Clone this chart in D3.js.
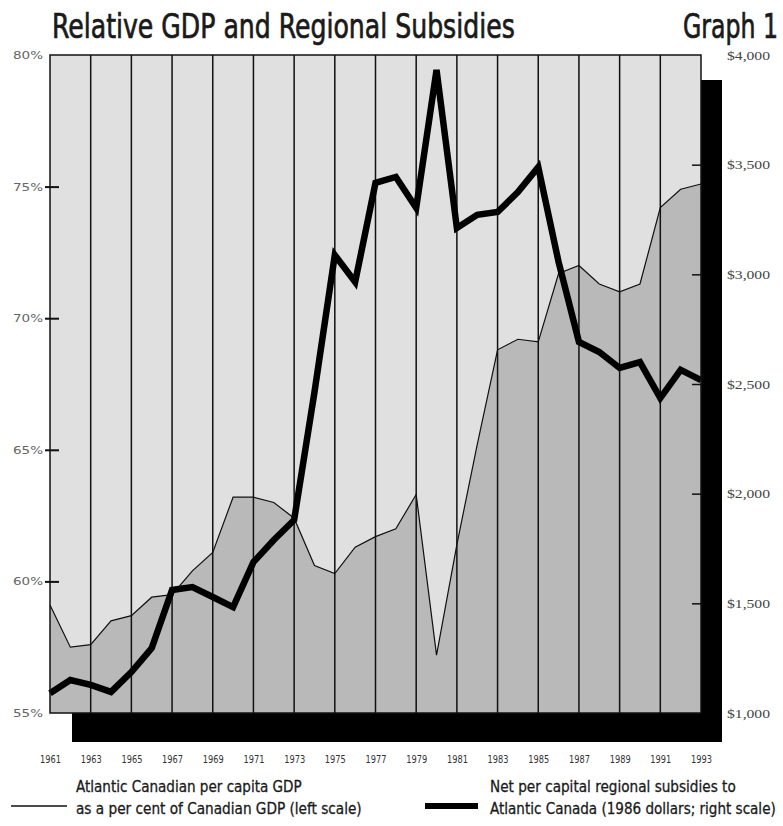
<!DOCTYPE html>
<html>
<head>
<meta charset="utf-8">
<script src="https://cdn.jsdelivr.net/npm/d3@7"></script>
<style>
  html, body { margin: 0; padding: 0; background: #fff; }
  svg { display: block; }
</style>
</head>
<body>
<svg id="chart" width="783" height="826"></svg>
<script>
// ---- data ----
const years = d3.range(1961, 1994);
const gdpPct = [59.1, 57.5, 57.6, 58.5, 58.7, 59.4, 59.5, 60.4, 61.1, 63.2, 63.2, 63.0, 62.4,
                60.6, 60.3, 61.3, 61.7, 62.0, 63.3, 57.2, 61.4, 65.2, 68.8, 69.2, 69.1,
                71.7, 72.0, 71.3, 71.0, 71.3, 74.2, 74.9, 75.1];
const subsidies = [1090, 1150, 1128, 1096, 1187, 1296, 1561, 1574, 1529, 1483, 1688, 1789, 1880,
                   2463, 3088, 2965, 3417, 3444, 3303, 3932, 3211, 3271, 3284, 3375, 3489,
                   3056, 2692, 2646, 2573, 2600, 2436, 2564, 2518];
const yearTicks = [1961, 1963, 1965, 1967, 1969, 1971, 1973, 1975, 1977, 1979, 1981, 1983, 1985, 1987, 1989, 1991, 1993];
const leftTicks = [55, 60, 65, 70, 75, 80];
const rightTicks = [1000, 1500, 2000, 2500, 3000, 3500, 4000];
const titleText = "Relative GDP and Regional Subsidies";
const graphLabel = "Graph 1";
const legendGdp = ["Atlantic Canadian per capita GDP", "as a per cent of Canadian GDP (left scale)"];
const legendSub = ["Net per capital regional subsidies to", "Atlantic Canada (1986 dollars; right scale)"];

// ---- layout ----
const L = 50, R = 701, T = 55, B = 713;
const narrow = '"Liberation Sans Narrow", "DejaVu Sans Condensed", "Roboto Condensed", sans-serif';

const svg = d3.select("#chart");
const x = d3.scaleLinear().domain([1961, 1993]).range([L, R]);
const yL = d3.scaleLinear().domain([55, 80]).range([B, T]);
const yR = d3.scaleLinear().domain([1000, 4000]).range([B, T]);

// place a text at (px, py) and squeeze it horizontally to width w
function fitText(parent, str, px, py, w, attrs) {
  const t = parent.append("text").attr("x", 0).attr("y", 0).text(str);
  Object.entries(attrs).forEach(([k, v]) => t.attr(k, v));
  const n = t.node().getComputedTextLength() || w;
  t.attr("transform", `translate(${px},${py}) scale(${w / n},1)`);
  return t;
}

// title
const titleAttrs = { "font-family": narrow, "font-size": 34, "fill": "#1a1a1a", "stroke": "#1a1a1a", "stroke-width": 0.7 };
fitText(svg, titleText, 52, 38, 463, titleAttrs);
fitText(svg, graphLabel, 683, 38, 95, titleAttrs);

// shadow
svg.append("rect").attr("x", 72).attr("y", 80)
  .attr("width", 650).attr("height", 662)
  .attr("fill", "#000");

// background
svg.append("rect").attr("x", L).attr("y", T).attr("width", R - L).attr("height", B - T)
  .attr("fill", "#e0e0e0");

// GDP area
const area = d3.area().x((d, i) => x(years[i])).y0(B).y1(d => yL(d));
svg.append("path").datum(gdpPct).attr("d", area).attr("fill", "#b9b9b9");

// vertical grid lines
svg.append("g").selectAll("line").data(yearTicks.slice(1, -1)).join("line")
  .attr("x1", d => x(d)).attr("x2", d => x(d)).attr("y1", T).attr("y2", B)
  .attr("stroke", "#111").attr("stroke-width", 1.5);

// GDP thin line
const lineL = d3.line().x((d, i) => x(years[i])).y(d => yL(d));
svg.append("path").datum(gdpPct).attr("d", lineL)
  .attr("fill", "none").attr("stroke", "#111").attr("stroke-width", 1.2);

// subsidies thick line
const lineR = d3.line().x((d, i) => x(years[i])).y(d => yR(d));
svg.append("path").datum(subsidies).attr("d", lineR)
  .attr("fill", "none").attr("stroke", "#000").attr("stroke-width", 6.5)
  .attr("stroke-linejoin", "miter").attr("stroke-miterlimit", 3);

// frame
svg.append("rect").attr("x", L).attr("y", T).attr("width", R - L).attr("height", B - T)
  .attr("fill", "none").attr("stroke", "#111").attr("stroke-width", 1.5);

// left axis
const gl = svg.append("g").attr("transform", `translate(${L + 9},0)`)
  .call(d3.axisLeft(yL).tickValues(leftTicks).tickSize(14).tickPadding(2).tickFormat(d => d + "%"));
gl.select(".domain").remove();
gl.selectAll(".tick line").attr("stroke", "#111").attr("stroke-width", 2)
  .attr("display", d => (d === 55 || d === 80) ? "none" : null);
gl.selectAll(".tick text").attr("font-family", '"DejaVu Sans Condensed", "DejaVu Sans", sans-serif')
  .attr("font-size", 11).attr("fill", "#666")
  .attr("textLength", 30).attr("lengthAdjust", "spacingAndGlyphs");

// right axis
const gr = svg.append("g").attr("transform", `translate(${R - 9},0)`)
  .call(d3.axisRight(yR).tickValues(rightTicks).tickSize(9).tickPadding(26).tickFormat(d3.format("$,")));
gr.select(".domain").remove();
gr.selectAll(".tick line").attr("stroke", "#111").attr("stroke-width", 1.5)
  .attr("display", d => (d === 1000 || d === 4000) ? "none" : null);
gr.selectAll(".tick text").attr("font-family", '"Liberation Serif", "DejaVu Serif", serif')
  .attr("font-size", 13).attr("fill", "#444")
  .attr("textLength", 43).attr("lengthAdjust", "spacingAndGlyphs");

// bottom axis
const gb = svg.append("g").attr("transform", `translate(0,${B})`)
  .call(d3.axisBottom(x).tickValues(yearTicks).tickSize(0).tickPadding(43).tickFormat(d3.format("d")));
gb.select(".domain").remove();
gb.selectAll(".tick text").attr("font-family", narrow).attr("font-size", 10).attr("fill", "#333")
  .attr("textLength", 21).attr("lengthAdjust", "spacingAndGlyphs");

// legend
const lg = svg.append("g");
const legAttrs = { "font-family": narrow, "font-size": 16, "fill": "#1a1a1a", "stroke": "#1a1a1a", "stroke-width": 0.3 };
lg.append("line").attr("x1", 11).attr("x2", 67).attr("y1", 806).attr("y2", 806)
  .attr("stroke", "#111").attr("stroke-width", 1.5);
fitText(lg, legendGdp[0], 76, 792, 226, legAttrs);
fitText(lg, legendGdp[1], 76, 814, 286, legAttrs);
lg.append("line").attr("x1", 425).attr("x2", 478).attr("y1", 806).attr("y2", 806)
  .attr("stroke", "#000").attr("stroke-width", 6);
fitText(lg, legendSub[0], 490, 792, 246, legAttrs);
fitText(lg, legendSub[1], 490, 814, 286, legAttrs);
</script>
</body>
</html>
